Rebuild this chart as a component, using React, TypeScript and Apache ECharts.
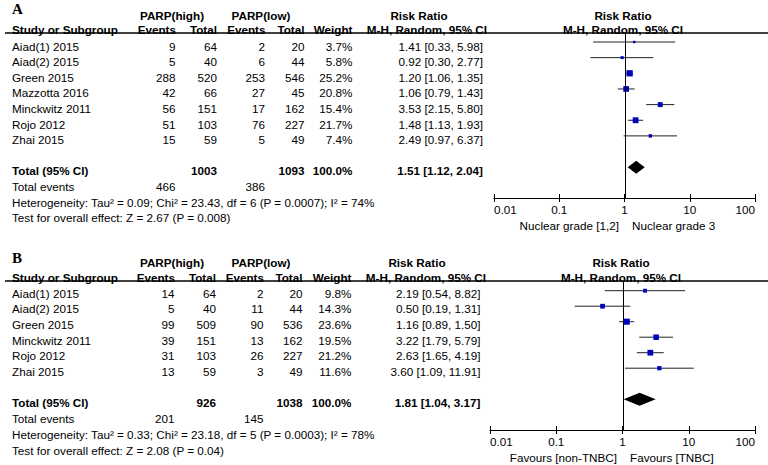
import React, { useEffect, useRef } from "react";
import * as echarts from "echarts";

// ---------- Panel A data ----------
const studiesA = ["Aiad(1) 2015", "Aiad(2) 2015", "Green 2015", "Mazzotta 2016", "Minckwitz 2011", "Rojo 2012", "Zhai 2015"];
const highEventsA = [9, 5, 288, 42, 56, 51, 15];
const highTotalA = [64, 40, 520, 66, 151, 103, 59];
const lowEventsA = [2, 6, 253, 27, 17, 76, 5];
const lowTotalA = [20, 44, 546, 45, 162, 227, 49];
const weightA = [3.7, 5.8, 25.2, 20.8, 15.4, 21.7, 7.4];
const rrA = [1.41, 0.92, 1.2, 1.06, 3.53, 1.48, 2.49];
const loA = [0.33, 0.3, 1.06, 0.79, 2.15, 1.13, 0.97];
const hiA = [5.98, 2.77, 1.35, 1.43, 5.8, 1.93, 6.37];
const totalsA = [1003, 1093]; // high total, low total
const totalEventsA = [466, 386];
const pooledA = [1.51, 1.12, 2.04]; // rr, lo, hi
const hetA = "Heterogeneity: Tau\u00b2 = 0.09; Chi\u00b2 = 23.43, df = 6 (P = 0.0007); I\u00b2 = 74%";
const testA = "Test for overall effect: Z = 2.67 (P = 0.008)";
const favoursA = ["Nuclear grade [1,2]", "Nuclear grade 3"];

// ---------- Panel B data ----------
const studiesB = ["Aiad(1) 2015", "Aiad(2) 2015", "Green 2015", "Minckwitz 2011", "Rojo 2012", "Zhai 2015"];
const highEventsB = [14, 5, 99, 39, 31, 13];
const highTotalB = [64, 40, 509, 151, 103, 59];
const lowEventsB = [2, 11, 90, 13, 26, 3];
const lowTotalB = [20, 44, 536, 162, 227, 49];
const weightB = [9.8, 14.3, 23.6, 19.5, 21.2, 11.6];
const rrB = [2.19, 0.5, 1.16, 3.22, 2.63, 3.6];
const loB = [0.54, 0.19, 0.89, 1.79, 1.65, 1.09];
const hiB = [8.82, 1.31, 1.5, 5.79, 4.19, 11.91];
const totalsB = [926, 1038];
const totalEventsB = [201, 145];
const pooledB = [1.81, 1.04, 3.17];
const hetB = "Heterogeneity: Tau\u00b2 = 0.33; Chi\u00b2 = 23.18, df = 5 (P = 0.0003); I\u00b2 = 78%";
const testB = "Test for overall effect: Z = 2.08 (P = 0.04)";
const favoursB = ["Favours [non-TNBC]", "Favours [TNBC]"];

const tickLabels = ["0.01", "0.1", "1", "10", "100"];
const refValue = 1; // line of no effect

// ---------- layout ----------
const FONT = "'Liberation Sans', Arial, Helvetica, sans-serif";
const FS = 11.7;

type Layout = {
  letter: string; letterY: number; head1: number; head2: number; line: number;
  row0: number; step: number; axisY: number; left: number; right: number;
  mRow0: number; mStep: number; cols: number[]; riskC: number; plotC: number; sub: number;
  parpHigh: number; parpLow: number; mhRight: number;
};

const LA: Layout = {
  letter: "A", letterY: 8.5, head1: 15, head2: 29, line: 33, row0: 46, step: 15.6, axisY: 198,
  left: 494, right: 755, mRow0: 42, mStep: 15.65, cols: [175.5, 217, 265, 304.5, 352.5, 483],
  riskC: 419, plotC: 623, sub: 225, parpHigh: 172, parpLow: 261, mhRight: 487,
};
const LB: Layout = {
  letter: "B", letterY: 257.5, head1: 262, head2: 277, line: 281, row0: 293, step: 15.7, axisY: 430,
  left: 490, right: 755, mRow0: 290.7, mStep: 15.5, cols: [174.5, 216, 263.5, 302.5, 351.5, 480.5],
  riskC: 417, plotC: 621, sub: 457, parpHigh: 172, parpLow: 261, mhRight: 486,
};

function txt(text: string, x: number, y: number, align: string = "left", bold = false, size = FS, family = FONT) {
  return {
    type: "text",
    silent: true,
    style: {
      text, x, y, textAlign: align, textVerticalAlign: "middle",
      fontSize: size, fontWeight: bold ? "bold" : "normal", fontFamily: family, fill: "#000",
    },
  };
}

const fmtRR = (r: number, l: number, h: number) => `${r.toFixed(2)} [${l.toFixed(2)}, ${h.toFixed(2)}]`;

function panelGraphics(L: Layout, studies: string[], he: number[], ht: number[], le: number[], lt: number[], w: number[], rr: number[], lo: number[], hi: number[], totals: number[], tev: number[], pooled: number[], het: string, test: string, fav: string[]) {
  const g: any[] = [];
  const c = L.cols;
  g.push(txt(L.letter, 12, L.letterY, "left", true, 15, "'Liberation Serif', 'Times New Roman', serif"));
  g.push(txt("PARP(high)", L.parpHigh, L.head1, "center", true));
  g.push(txt("PARP(low)", L.parpLow, L.head1, "center", true));
  g.push(txt("Risk Ratio", L.riskC, L.head1, "center", true));
  g.push(txt("Risk Ratio", L.plotC, L.head1, "center", true));
  g.push(txt("Study or Subgroup", 12, L.head2, "left", true));
  g.push(txt("Events", c[0] + 0.5, L.head2, "right", true));
  g.push(txt("Total", c[1], L.head2, "right", true));
  g.push(txt("Events", c[2] + 0.5, L.head2, "right", true));
  g.push(txt("Total", c[3], L.head2, "right", true));
  g.push(txt("Weight", c[4], L.head2, "right", true));
  g.push(txt("M-H, Random, 95% CI", L.mhRight, L.head2, "right", true));
  g.push(txt("M-H, Random, 95% CI", L.plotC, L.head2, "center", true));
  g.push({ type: "line", silent: true, shape: { x1: 5, y1: L.line, x2: 768, y2: L.line }, style: { stroke: "#000", lineWidth: 1.3 } });
  // line of no effect: RR = 1 sits at the middle of the symmetric log range 0.01..100
  const refX = Math.round(L.left + (L.right - L.left) / 2) + 0.5;
  g.push({ type: "line", silent: true, z: 100, shape: { x1: refX, y1: L.line, x2: refX, y2: L.axisY }, style: { stroke: "#000", lineWidth: 1 } });
  studies.forEach((s, i) => {
    const y = L.row0 + i * L.step;
    g.push(txt(s, 12, y));
    g.push(txt(String(he[i]), c[0], y, "right"));
    g.push(txt(String(ht[i]), c[1], y, "right"));
    g.push(txt(String(le[i]), c[2], y, "right"));
    g.push(txt(String(lt[i]), c[3], y, "right"));
    g.push(txt(`${w[i].toFixed(1)}%`, c[4], y, "right"));
    g.push(txt(fmtRR(rr[i], lo[i], hi[i]), c[5], y, "right"));
  });
  const tr = studies.length + 1;
  const yT = L.row0 + tr * L.step;
  g.push(txt("Total (95% CI)", 12, yT, "left", true));
  g.push(txt(String(totals[0]), c[1], yT, "right", true));
  g.push(txt(String(totals[1]), c[3], yT, "right", true));
  g.push(txt("100.0%", c[4], yT, "right", true));
  g.push(txt(fmtRR(pooled[0], pooled[1], pooled[2]), c[5], yT, "right", true));
  const yE = yT + L.step;
  g.push(txt("Total events", 12, yE));
  g.push(txt(String(tev[0]), c[0], yE, "right"));
  g.push(txt(String(tev[1]), c[2], yE, "right"));
  g.push(txt(het, 12, yE + L.step));
  g.push(txt(test, 12, yE + 2 * L.step));
  g.push(txt(fav[0], refX - 6.5, L.sub, "right"));
  g.push(txt(fav[1], refX + 6.5, L.sub, "left"));
  return g;
}

function makeAxes(gi: number) {
  const fmt = (v: number) => {
    const k = Math.round(Math.log10(v)) + 2;
    return tickLabels[k] ?? String(v);
  };
  const base = {
    type: "log", logBase: 10, min: 0.01, max: 100, gridIndex: gi, position: "bottom",
    splitLine: { show: false }, minorTick: { show: false }, minorSplitLine: { show: false },
  };
  return [
    {
      ...base,
      axisLine: { show: true, onZero: false, lineStyle: { color: "#000", width: 1 } },
      axisTick: { show: true, inside: false, length: 4, lineStyle: { color: "#000", width: 1 } },
      axisLabel: {
        show: true, margin: 5, color: "#000", fontSize: FS, fontFamily: FONT, formatter: fmt,
        alignMinLabel: "left", alignMaxLabel: "right",
      },
    },
    {
      ...base,
      axisLine: { show: false, onZero: false },
      axisTick: { show: true, inside: true, length: 4, lineStyle: { color: "#000", width: 1 } },
      axisLabel: { show: false },
    },
  ];
}

function panelSeries(gi: number, rr: number[], lo: number[], hi: number[], w: number[], pooled: number[]) {
  const n = rr.length;
  const studyData = rr.map((r, i) => [r, i, lo[i], hi[i], w[i]]);
  const totalRow = n + 1;
  return [
    {
      type: "custom", xAxisIndex: gi * 2, yAxisIndex: gi, silent: true, clip: false, z: 10,
      data: studyData,
      encode: { x: 0, y: 1 },
      renderItem: (params: any, api: any) => {
        const row = api.value(1);
        const p = api.coord([api.value(0), row]);
        const l = api.coord([api.value(2), row]);
        const h = api.coord([api.value(3), row]);
        const s = 1.25 * Math.sqrt(api.value(4));
        return {
          type: "group",
          children: [
            { type: "line", shape: { x1: l[0], y1: p[1], x2: h[0], y2: p[1] }, style: { stroke: "#222", lineWidth: 1 } },
            { type: "rect", shape: { x: p[0] - s / 2, y: p[1] - s / 2, width: s, height: s }, style: { fill: "#0000c0" } },
          ],
        };
      },
    },
    {
      type: "custom", xAxisIndex: gi * 2, yAxisIndex: gi, silent: true, clip: false, z: 10,
      data: [[pooled[0], totalRow, pooled[1], pooled[2]]],
      encode: { x: 0, y: 1 },
      renderItem: (params: any, api: any) => {
        const row = api.value(1);
        const p = api.coord([api.value(0), row]);
        const l = api.coord([api.value(2), row]);
        const h = api.coord([api.value(3), row]);
        const hh = 6.5;
        return {
          type: "polygon",
          shape: { points: [[l[0], p[1]], [p[0], p[1] - hh], [h[0], p[1]], [p[0], p[1] + hh]] },
          style: { fill: "#000" },
        };
      },
    },
  ];
}

export default function App() {
  const ref = useRef<HTMLDivElement>(null);
  useEffect(() => {
    if (!ref.current) return;
    const chart = echarts.init(ref.current, null, { renderer: "svg" });
    const yMinA = -(LA.mRow0 - LA.line) / LA.mStep;
    const yMaxA = yMinA + (LA.axisY - LA.line) / LA.mStep;
    const yMinB = -(LB.mRow0 - LB.line) / LB.mStep;
    const yMaxB = yMinB + (LB.axisY - LB.line) / LB.mStep;
    const option: any = {
      animation: false,
      backgroundColor: "#fff",
      grid: [
        { left: LA.left, width: LA.right - LA.left, top: LA.line, height: LA.axisY - LA.line },
        { left: LB.left, width: LB.right - LB.left, top: LB.line, height: LB.axisY - LB.line },
      ],
      xAxis: [...makeAxes(0), ...makeAxes(1)],
      yAxis: [
        { gridIndex: 0, type: "value", inverse: true, min: yMinA, max: yMaxA, show: false },
        { gridIndex: 1, type: "value", inverse: true, min: yMinB, max: yMaxB, show: false },
      ],
      series: [
        ...panelSeries(0, rrA, loA, hiA, weightA, pooledA),
        ...panelSeries(1, rrB, loB, hiB, weightB, pooledB),
      ],
      graphic: [
        ...panelGraphics(LA, studiesA, highEventsA, highTotalA, lowEventsA, lowTotalA, weightA, rrA, loA, hiA, totalsA, totalEventsA, pooledA, hetA, testA, favoursA),
        ...panelGraphics(LB, studiesB, highEventsB, highTotalB, lowEventsB, lowTotalB, weightB, rrB, loB, hiB, totalsB, totalEventsB, pooledB, hetB, testB, favoursB),
      ],
    };
    chart.setOption(option);
    return () => chart.dispose();
  }, []);
  return <div ref={ref} style={{ position: "absolute", left: 0, top: 0, width: 768, height: 465, background: "#fff" }} />;
}
